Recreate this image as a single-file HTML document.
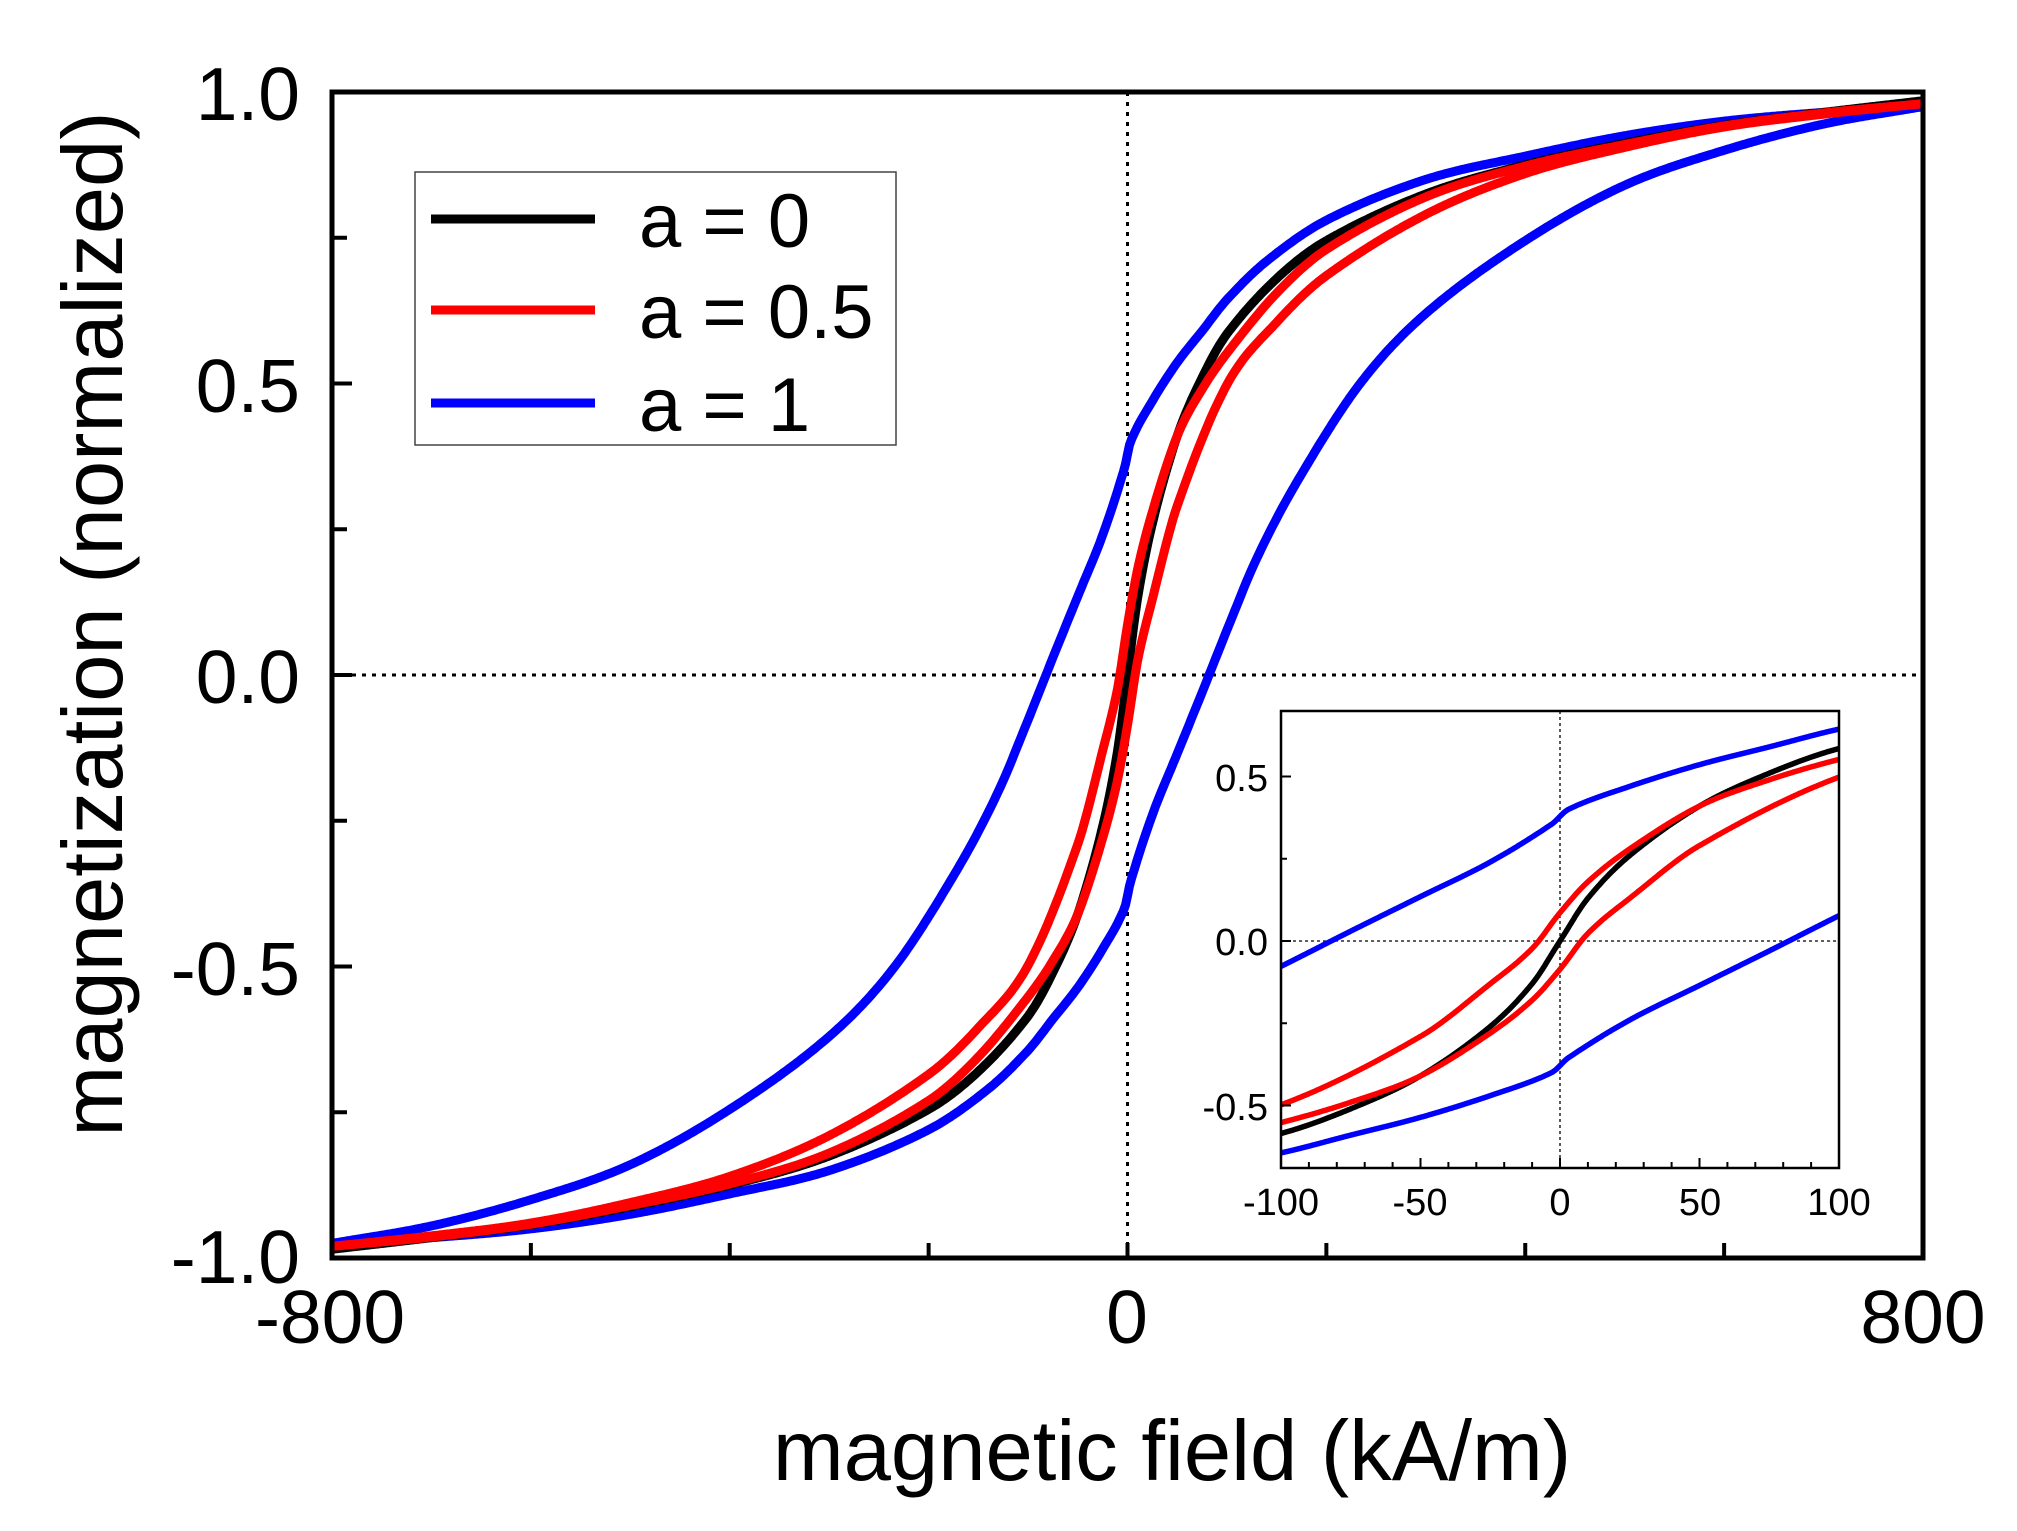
<!DOCTYPE html>
<html><head><meta charset="utf-8"><style>
html,body{margin:0;padding:0;background:#fff;}
svg{display:block;}
text{font-family:"Liberation Sans",Arial,sans-serif;fill:#000;}
</style></head><body>
<svg id="s" width="2017" height="1531" viewBox="0 0 2017 1531" xmlns="http://www.w3.org/2000/svg">
<defs>
<clipPath id="cm"><rect x="332" y="92" width="1591" height="1166"/></clipPath>
<clipPath id="ci"><rect x="1281" y="711" width="558" height="457"/></clipPath>
</defs>
<rect width="2017" height="1531" fill="#fff"/>
<line x1="1127.5" y1="92" x2="1127.5" y2="1258" stroke="#000" stroke-width="3" stroke-dasharray="4 6"/>
<line x1="332" y1="675" x2="1923" y2="675" stroke="#000" stroke-width="3" stroke-dasharray="4 6"/>
<g id="main" clip-path="url(#cm)"></g>
<rect x="415" y="172" width="481" height="273" fill="#fff" stroke="#444" stroke-width="1.5"/>
<line x1="431" y1="219" x2="595" y2="219" stroke="#000" stroke-width="9"/>
<line x1="431" y1="310" x2="595" y2="310" stroke="#f00" stroke-width="9"/>
<line x1="431" y1="403" x2="595" y2="403" stroke="#00f" stroke-width="9"/>
<text x="639" y="247" font-size="76">a = 0</text>
<text x="639" y="338" font-size="76">a = 0.5</text>
<text x="639" y="431" font-size="76">a = 1</text>
<rect x="1281" y="711" width="558" height="457" fill="#fff"/>
<line x1="1560" y1="711" x2="1560" y2="1168" stroke="#000" stroke-width="1.3" stroke-dasharray="3 3"/>
<line x1="1281" y1="941" x2="1839" y2="941" stroke="#000" stroke-width="1.3" stroke-dasharray="3 3"/>
<g id="inset" clip-path="url(#ci)"></g>
<rect x="1281" y="711" width="558" height="457" fill="none" stroke="#000" stroke-width="2.5"/>
<g id="ticks"></g>
<rect x="332" y="92" width="1591" height="1166" fill="none" stroke="#000" stroke-width="5"/>
<g font-size="75" text-anchor="end">
<text x="300" y="120">1.0</text>
<text x="300" y="412">0.5</text>
<text x="300" y="703">0.0</text>
<text x="300" y="995">-0.5</text>
<text x="300" y="1283">-1.0</text>
</g>
<g font-size="75" text-anchor="middle">
<text x="330" y="1343">-800</text>
<text x="1127" y="1343">0</text>
<text x="1923" y="1343">800</text>
</g>
<g font-size="38" text-anchor="end">
<text x="1268" y="791">0.5</text>
<text x="1268" y="955">0.0</text>
<text x="1268" y="1120">-0.5</text>
</g>
<g font-size="38" text-anchor="middle">
<text x="1281" y="1215">-100</text>
<text x="1420" y="1215">-50</text>
<text x="1560" y="1215">0</text>
<text x="1700" y="1215">50</text>
<text x="1839" y="1215">100</text>
</g>
<text x="1172" y="1480" font-size="85" text-anchor="middle">magnetic field (kA/m)</text>
<text transform="translate(122,624) rotate(-90)" font-size="85" text-anchor="middle">magnetization (normalized)</text>
</svg>
<script>
(function(){
var NS="http://www.w3.org/2000/svg";
function interp(t,h){for(var i=0;i<t.length-1;i++){if(h<=t[i+1][0]){var a=t[i],b=t[i+1];
 var p0=t[Math.max(i-1,0)],p3=t[Math.min(i+2,t.length-1)];
 var u=(h-a[0])/(b[0]-a[0]);
 var m1=(b[1]-p0[1])/(b[0]-p0[0])*(b[0]-a[0]), m2=(p3[1]-a[1])/(p3[0]-a[0])*(b[0]-a[0]);
 if(p0===a) m1=b[1]-a[1]; if(p3===b) m2=b[1]-a[1];
 var u2=u*u,u3=u2*u;
 return (2*u3-3*u2+1)*a[1]+(u3-2*u2+u)*m1+(-2*u3+3*u2)*b[1]+(u3-u2)*m2;}}return t[t.length-1][1];}
function sym(pos){var t=[];for(var i=pos.length-1;i>0;i--)t.push([-pos[i][0],-pos[i][1]]);return t.concat(pos);}
var black=sym([[0,0],[10,0.13],[25,0.26],[50,0.41],[75,0.51],[100,0.585],[150,0.68],[200,0.745],[300,0.825],[400,0.875],[500,0.912],[600,0.943],[700,0.965],[800,0.985]]);
var rlPos=[[0,-0.086],[10,0.023],[25,0.13],[50,0.29],[100,0.498],[150,0.605],[200,0.685],[300,0.79],[400,0.86],[500,0.905],[600,0.94],[700,0.962],[800,0.98]];
var ruPos=[[0,0.086],[10,0.18],[25,0.28],[50,0.41],[75,0.49],[100,0.552],[150,0.655],[200,0.73],[300,0.82],[400,0.873],[500,0.91],[600,0.942],[700,0.964],[800,0.98]];
var redU=[];for(var i=rlPos.length-1;i>0;i--)redU.push([-rlPos[i][0],-rlPos[i][1]]);redU=redU.concat(ruPos);
var blueU=[[-800,-0.975],[-700,-0.945],[-600,-0.9],[-500,-0.84],[-400,-0.745],[-300,-0.62],[-234,-0.5],[-170,-0.33],[-130,-0.2],[-100,-0.077],[-75,0.03],[-50,0.135],[-25,0.24],[-3,0.355],[3,0.4],[25,0.47],[50,0.536],[75,0.59],[100,0.644],[140,0.71],[200,0.78],[300,0.85],[400,0.89],[500,0.925],[600,0.95],[700,0.965],[800,0.975]];
function neg(t){return function(h){return -interp(t,-h);};}
function pos(t){return function(h){return interp(t,h);};}
var series=[["#00f",pos(blueU)],["#00f",neg(blueU)],["#000",pos(black)],["#f00",pos(redU)],["#f00",neg(redU)]];
function draw(g,X,Y,h0,h1,sw){
 series.forEach(function(s){var d="";for(var k=0;k<=800;k++){var h=h0+(h1-h0)*k/800;d+=(k?"L":"M")+X(h).toFixed(1)+" "+Y(s[1](h)).toFixed(1);}
 var p=document.createElementNS(NS,"path");p.setAttribute("d",d);p.setAttribute("fill","none");p.setAttribute("stroke",s[0]);p.setAttribute("stroke-width",sw);p.setAttribute("stroke-linejoin","round");g.appendChild(p);});
}
draw(document.getElementById("main"),function(h){return 332+(h+800)/1600*1591;},function(m){return 675-m*583;},-800,800,9);
draw(document.getElementById("inset"),function(h){return 1281+(h+100)/200*558;},function(m){return 941-m*329;},-100,100,5.5);
var tg=document.getElementById("ticks");
function ln(x1,y1,x2,y2,w){var l=document.createElementNS(NS,"line");l.setAttribute("x1",x1);l.setAttribute("y1",y1);l.setAttribute("x2",x2);l.setAttribute("y2",y2);l.setAttribute("stroke","#000");l.setAttribute("stroke-width",w);tg.appendChild(l);}
for(var v=-1;v<=1.001;v+=0.25){var y=675-v*583;ln(332,y,(Math.abs(v*2-Math.round(v*2))<0.01)?352:347,y,4);}
for(var h=-600;h<=600;h+=200){var x=332+(h+800)/1600*1591;ln(x,1258,x,1243,4);}
for(var h=-90;h<=90;h+=10){var x=1281+(h+100)/200*558;ln(x,1168,x,(h%50==0)?1158:1162,2);}
for(var v=-0.5;v<=0.5;v+=0.25){var y=941-v*329;ln(1281,y,(Math.abs(v)%0.5==0)?1291:1287,y,2);}
})();
</script>
</body></html>
